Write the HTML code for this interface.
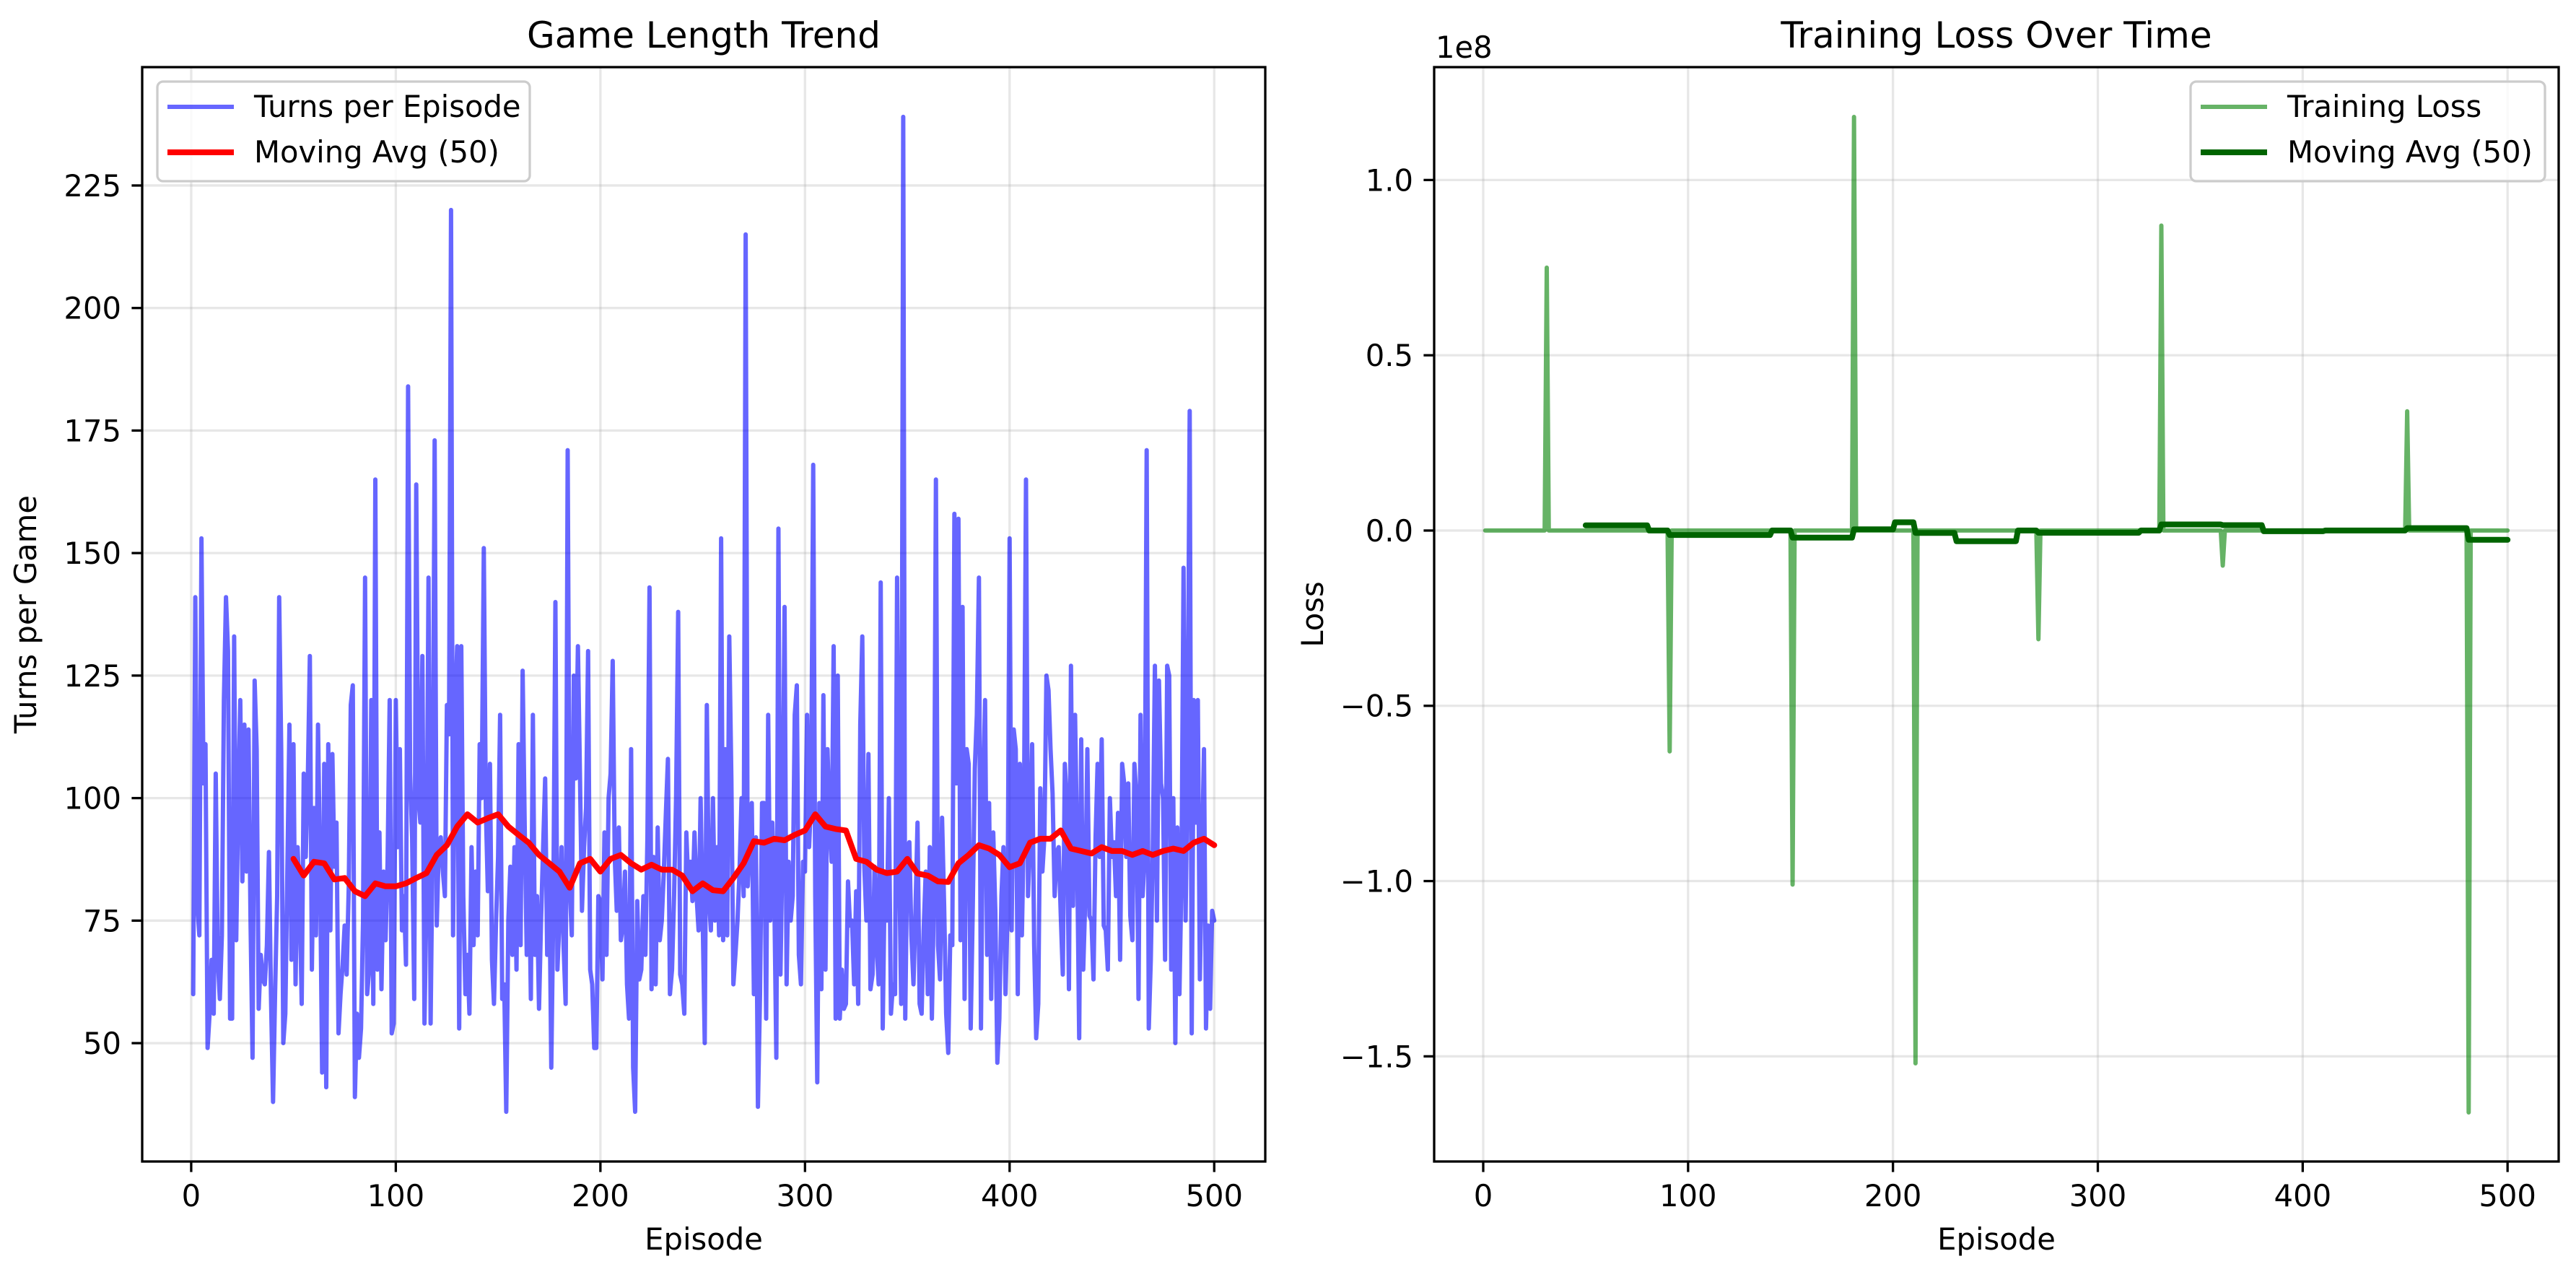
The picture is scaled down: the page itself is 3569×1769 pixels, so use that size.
<!DOCTYPE html>
<html><head><meta charset="utf-8"><style>
html,body{margin:0;padding:0;background:#fff;}
svg{display:block;font-family:"DejaVu Sans","Liberation Sans",sans-serif;}
</style></head><body>
<svg id="fig" width="3569" height="1769" viewBox="0 0 3569 1769" xmlns="http://www.w3.org/2000/svg">
<rect width="3569" height="1769" fill="#fff"/>
<g id="left"></g>
<g id="right"></g>
</svg>
<script>
const turns = [
60,141,78,72,153,103,111,49,56,67,
56,105,67,59,72,120,141,130,55,55,
133,71,100,120,83,115,85,114,75,47,
124,110,57,68,63,62,70,89,60,38,
60,80,141,110,50,56,85,115,67,111,
62,90,80,58,105,88,104,129,65,98,
72,115,85,44,107,41,111,73,109,86,
95,52,60,66,74,64,82,119,123,39,
56,47,53,75,145,60,65,120,58,165,
65,93,61,85,71,87,120,52,54,120,
90,110,73,80,66,184,105,92,59,164,
100,95,129,54,80,145,54,92,173,74,
90,92,85,80,119,113,220,72,118,131,
53,131,80,60,68,56,90,70,85,72,
111,100,151,98,81,107,67,58,75,88,
117,59,62,36,75,86,68,90,65,111,
70,126,94,68,90,59,117,68,80,57,
75,90,104,68,86,45,78,140,65,75,
90,70,58,171,82,72,125,104,131,105,
77,90,98,130,65,62,49,49,80,79,
63,93,68,100,105,128,88,77,94,71,
74,85,62,55,110,45,36,79,63,65,
80,68,92,143,61,88,62,94,71,75,
85,97,108,60,65,80,100,138,64,62,
56,93,82,87,79,93,80,73,100,75,
50,119,80,73,100,75,90,72,153,71,
110,72,133,104,62,68,75,85,100,80,
215,82,91,99,60,92,37,60,99,99,
55,117,75,95,80,47,155,64,90,139,
62,87,75,80,117,123,68,62,87,85,
117,90,100,168,80,42,99,61,121,65,
110,95,87,131,55,125,55,65,57,58,
83,74,75,62,81,58,115,133,86,75,
109,61,64,86,70,62,144,53,85,75,
100,56,62,60,145,88,58,239,55,90,
91,72,62,77,95,58,56,73,85,60,
90,55,80,165,70,63,96,78,56,48,
72,70,158,103,157,71,139,59,110,107,
53,78,106,117,145,53,100,120,68,99,
59,93,77,46,55,80,90,60,77,153,
73,114,110,60,107,72,95,165,80,92,
111,70,51,58,102,85,92,125,122,110,
101,80,89,90,76,64,107,99,61,127,
78,117,90,51,112,65,80,110,76,75,
63,92,107,88,112,74,73,65,100,88,
91,80,97,67,107,103,88,103,76,71,
107,100,59,117,80,88,171,53,67,90,
127,75,124,103,100,67,127,125,65,100,
50,94,60,84,147,75,108,179,52,120,
95,120,63,88,110,53,74,57,77,75];
const maEpisodes = [50,55,60,65,70,75,80,85,90,95,100,105,110,115,120,125,130,135,140,145,150,155,160,165,170,175,180,185,190,195,200,205,210,215,220,225,230,235,240,245,250,255,260,265,270,275,280,285,290,295,300,305,310,315,320,325,330,335,340,345,350,355,360,365,370,375,380,385,390,395,400,405,410,415,420,425,430,435,440,445,450,455,460,465,470,475,480,485,490,495,500];
const maTurns = [87.6,84.2,87,86.7,83.4,83.7,81,80,82.6,82,82,82.6,83.7,84.7,88.4,90.4,94.2,96.7,95,95.9,96.7,94.2,92.5,90.9,88.4,86.7,85,81.7,86.7,87.6,85,87.6,88.4,86.7,85.4,86.4,85.4,85.4,84.2,81,82.6,81.2,81,83.7,86.7,91.2,90.9,91.7,91.4,92.5,93.4,96.7,94.2,93.7,93.4,87.6,87,85.4,84.7,85,87.6,84.6,84.2,83,82.9,86.7,88.4,90.4,89.7,88.4,85.9,86.7,90.9,91.7,91.7,93.4,89.7,89.2,88.7,90,89.2,89.2,88.4,89.2,88.4,89.2,89.7,89.2,90.9,91.7,90.4];
const lossSpikeEpisodes = [31,91,151,181,211,271,331,361,451,481];
const lossSpikeValues = [0.75e8,-0.63e8,-1.01e8,1.18e8,-1.52e8,-0.31e8,0.87e8,-0.10e8,0.34e8,-1.66e8];
const xTicks = [0,100,200,300,400,500];
const leftYTicks = [50,75,100,125,150,175,200,225];
const rightYTicks = [-1.5e8,-1.0e8,-0.5e8,0,0.5e8,1.0e8];
const rightYTickLabels = ["\u22121.5","\u22121.0","\u22120.5","0.0","0.5","1.0"];

const NS="http://www.w3.org/2000/svg";
function mk(parent,tag,attrs,text){const e=document.createElementNS(NS,tag);for(const k in attrs)e.setAttribute(k,attrs[k]);if(text!==undefined)e.textContent=text;parent.appendChild(e);return e;}

const N=turns.length;
const episodes=turns.map((_,i)=>i+1);
const losses=episodes.map(()=>0);
lossSpikeEpisodes.forEach((ep,i)=>{losses[ep-1]=lossSpikeValues[i];});
const lossMA=[],lossMAx=[];
for(let i=49;i<N;i++){let s=0;for(let j=i-49;j<=i;j++)s+=losses[j];lossMA.push(s/50);lossMAx.push(i+1);}

function drawGrid(g,box,xlim,ylim,yTicks){
  const sx=v=>box.x0+(v-xlim[0])/(xlim[1]-xlim[0])*(box.x1-box.x0);
  const sy=v=>box.y1-(v-ylim[0])/(ylim[1]-ylim[0])*(box.y1-box.y0);
  xTicks.forEach(t=>{
    const gl=mk(g,'line',{x1:sx(t),x2:sx(t),y1:box.y0,y2:box.y1,stroke:'#b0b0b0','stroke-opacity':0.3,'stroke-width':3.3});
    
    
  });
  yTicks.forEach(t=>{
    const gl=mk(g,'line',{x1:box.x0,x2:box.x1,y1:sy(t),y2:sy(t),stroke:'#b0b0b0','stroke-opacity':0.3,'stroke-width':3.3});
    
    
  });
  return {sx,sy};
}
function finishAxes(g,box,sx,sy,yTicks,yLabels,title,ylabel){
  const fr=mk(g,'rect',{x:box.x0,y:box.y0,width:box.x1-box.x0,height:box.y1-box.y0,fill:'none',stroke:'#000','stroke-width':3.3});
  
  
  xTicks.forEach(t=>{
    mk(g,'line',{x1:sx(t),x2:sx(t),y1:box.y1,y2:box.y1+14.6,stroke:'#000','stroke-width':3.3});
    const tl=mk(g,'text',{x:sx(t),y:1671,'text-anchor':'middle','font-size':41.7,fill:'#000'},String(t));
    
    
  });
  yTicks.forEach((t,i)=>{
    mk(g,'line',{x1:box.x0-14.6,x2:box.x0,y1:sy(t),y2:sy(t),stroke:'#000','stroke-width':3.3});
    const tl=mk(g,'text',{x:box.x0-29,y:sy(t)+15,'text-anchor':'end','font-size':41.7,fill:'#000'},yLabels[i]);
    
    
  });
  const tt=mk(g,'text',{x:(box.x0+box.x1)/2,y:66,'text-anchor':'middle','font-size':50,fill:'#000'},title);
  
  
  const xl=mk(g,'text',{x:(box.x0+box.x1)/2,y:1731,'text-anchor':'middle','font-size':41.7,fill:'#000'},'Episode');
  
  
  const cy=(box.y0+box.y1)/2;
  const yl=mk(g,'text',{x:box.ylx,y:cy,'text-anchor':'middle','font-size':41.7,fill:'#000',transform:`rotate(-90 ${box.ylx} ${cy})`},ylabel);
  
  
}
function legend(g,x0,x1,entries){
  const bg=mk(g,'rect',{x:x0,y:113,width:x1-x0,height:138,rx:8,fill:'#fff','fill-opacity':0.8,stroke:'#cccccc','stroke-width':3.3});
  
  
  entries.forEach((e,i)=>{
    const y=148+i*63;
    const ln=mk(g,'line',{x1:x0+14,x2:x0+106,y1:y,y2:y,stroke:e.c,'stroke-opacity':e.o,'stroke-width':e.w});
    
    
    const tx=mk(g,'text',{x:x0+134,y:y+14,'font-size':41.7,fill:'#000'},e.t);
    
    
  });
}

(function(){
  const g=document.getElementById('left');
  const box={x0:197,x1:1753,y0:93,y1:1609,ylx:50};
  const xlim=[-23.95,524.95], ylim=[25.85,249.15];
  const {sx,sy}=drawGrid(g,box,xlim,ylim,leftYTicks);
  const pts=turns.map((v,i)=>sx(episodes[i]).toFixed(1)+','+sy(v).toFixed(1)).join(' ');
  const l1=mk(g,'polyline',{points:pts,fill:'none',stroke:'#0000ff','stroke-opacity':0.6,'stroke-width':6,'stroke-linejoin':'round','stroke-linecap':'round'});
  
  
  const p2=maTurns.map((v,i)=>sx(maEpisodes[i]).toFixed(1)+','+sy(v).toFixed(1)).join(' ');
  const l2=mk(g,'polyline',{points:p2,fill:'none',stroke:'#ff0000','stroke-width':8,'stroke-linejoin':'round','stroke-linecap':'round'});
  
  
  finishAxes(g,box,sx,sy,leftYTicks,leftYTicks.map(String),'Game Length Trend','Turns per Game');
  legend(g,218,734,[{c:'#0000ff',o:0.6,w:6,t:'Turns per Episode'},{c:'#ff0000',o:1,w:8,t:'Moving Avg (50)'}]);
})();

(function(){
  const g=document.getElementById('right');
  const box={x0:1987,x1:3545,y0:93,y1:1609,ylx:1833};
  const xlim=[-23.95,524.95], ylim=[-1.80e8,1.322e8];
  const {sx,sy}=drawGrid(g,box,xlim,ylim,rightYTicks);
  const pts=losses.map((v,i)=>sx(episodes[i]).toFixed(1)+','+sy(v).toFixed(1)).join(' ');
  const l1=mk(g,'polyline',{points:pts,fill:'none',stroke:'#008000','stroke-opacity':0.6,'stroke-width':6,'stroke-linejoin':'round','stroke-linecap':'round'});
  
  
  const p2=lossMA.map((v,i)=>sx(lossMAx[i]).toFixed(1)+','+sy(v).toFixed(1)).join(' ');
  const l2=mk(g,'polyline',{points:p2,fill:'none',stroke:'#006400','stroke-width':8,'stroke-linejoin':'round','stroke-linecap':'round'});
  
  
  finishAxes(g,box,sx,sy,rightYTicks,rightYTickLabels,'Training Loss Over Time','Loss');
  const off=mk(g,'text',{x:1989,y:80,'font-size':41.7,fill:'#000'},'1e8');
  
  
  legend(g,3035,3526,[{c:'#008000',o:0.6,w:6,t:'Training Loss'},{c:'#006400',o:1,w:8,t:'Moving Avg (50)'}]);
})();
</script>
</body></html>
